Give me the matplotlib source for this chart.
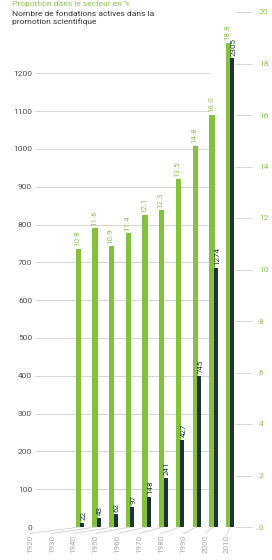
import matplotlib
matplotlib.use('Agg')
import matplotlib.pyplot as plt

plt.rcParams['font.family'] = ['Roboto', 'DejaVu Sans']

# data
years = ['1920', '1930', '1940', '1950', '1960', '1970', '1980', '1990', '2000', '2010']
share = [10.8, 11.6, 10.9, 11.4, 12.1, 12.3, 13.5, 14.8, 16.0, 18.8]
count = [22, 43, 62, 97, 148, 241, 427, 745, 1274, 2305]
share_labels = ['10.8', '11.6', '10.9', '11.4', '12.1', '12.3', '13.5', '14.8', '16.0', '18.8']
left_ticks = [0, 100, 200, 300, 400, 500, 600, 700, 800, 900, 1000, 1100, 1200]
right_ticks = [0, 2, 4, 6, 8, 10, 12, 14, 16, 18, 20]

green = '#84c23e'
green_txt = '#8fc450'
dark = '#1f3439'
grey_txt = '#4d4d4d'
grid_col = '#cfcfcf'

W, H = 272, 560
fig = plt.figure(figsize=(W / 100, H / 100), dpi=100)

ax = fig.add_axes([35 / W, 33 / H, 217 / W, 515 / H])
ax.set_xlim(-2.69, 10.3)
ax.set_ylim(0, 1362)
for s in ax.spines.values():
    s.set_visible(False)
ax.set_xticks([])
ax.set_yticks(left_ticks)
ax.set_yticklabels([str(t) for t in left_ticks], fontsize=6, color=grey_txt)
ax.tick_params(axis='y', length=0, pad=2)
for t in left_ticks[1:]:
    ax.axhline(t, xmin=0, xmax=0.80, color=grid_col, lw=0.6, zorder=0)
ax.axhline(0, xmin=0, xmax=0.99, color='#b5b5b5', lw=0.7, zorder=0)

# right axis: share in %
ax2 = ax.twinx()
ax2.set_ylim(0, 20)
for s in ax2.spines.values():
    s.set_visible(False)
ax2.set_yticks(right_ticks)
ax2.set_yticklabels([str(t) for t in right_ticks], fontsize=6, color=green_txt)
ax2.tick_params(axis='y', direction='in', length=12, width=0.6, color=grid_col, pad=5)

x = list(range(len(years)))
ax2.bar([i - 0.1 for i in x], share, width=0.32, color=green, zorder=2)
for i, v, lab in zip(x, share, share_labels):
    ax2.text(i - 0.16, v + 0.1, lab, rotation=90, ha='center', va='bottom',
             fontsize=5.8, color=green_txt)

# number of foundations (own scale)
ax3 = ax.twinx()
ax3.set_ylim(0, 2533)
ax3.axis('off')
ax3.bar([i + 0.13 for i in x], count, width=0.24, color=dark, zorder=3)
for i, v in zip(x, count):
    ax3.text(i + 0.21, v + 14, str(v), rotation=90, ha='center', va='bottom',
             fontsize=5.8, color=dark)

# year labels with leader lines
for i, y in enumerate(years):
    lx = -2.99 + 1.311 * i
    ax2.plot([lx, i], [-0.25, 0], color='#c8c8c8', lw=0.5, clip_on=False)
    ax2.text(lx, -0.3, y, rotation=90, ha='center', va='top', fontsize=5.8,
             color='#a8a8a8', clip_on=False)

fig.text(12 / W, 1 - 1 / H, 'Proportion dans le secteur en %', fontsize=6,
         color=green_txt, va='top')
fig.text(12 / W, 1 - 11 / H, 'Nombre de fondations actives dans la\npromotion scientifique',
         fontsize=6, color='#333333', va='top', linespacing=1.2)

fig.savefig('out.png', dpi=100)
